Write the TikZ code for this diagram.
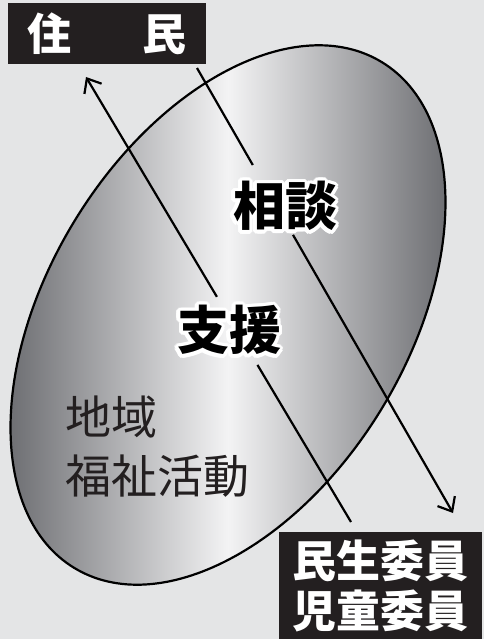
\documentclass[tikz,border=0pt]{standalone}
\usepackage{fontspec}
\newfontfamily\cjk{Noto Sans CJK JP}
\usetikzlibrary{arrows.meta,calc}
\definecolor{bg}{RGB}{228,229,230}
\definecolor{boxfill}{RGB}{35,31,32}
\definecolor{edgegray}{RGB}{108,109,113}
\definecolor{midgray}{RGB}{243,243,244}
\definecolor{ink}{RGB}{35,31,32}
\newcommand{\halotxt}[1]{%
  \foreach \a in {0,22.5,...,337.5}{%
    \pgfmathsetmacro\hx{3.6*cos(\a)}\pgfmathsetmacro\hy{3.6*sin(\a)}%
    \rlap{\kern\hx pt\raisebox{\hy pt}{\color{white}#1}}}%
  #1}
\begin{document}
\begin{tikzpicture}[x=1pt,y=-1pt,
  blackbox/.style={fill=boxfill, text=white, font=\cjk\bfseries\fontsize{44}{50}\selectfont, inner sep=0pt, align=center},
  conn/.style={line width=2.2pt, draw=black},
  tip/.style={-{Straight Barb[length=12pt,width=20pt,line width=2.2pt]}},
  halolabel/.style={font=\cjk\bfseries\fontsize{52}{52}\selectfont, text=black, inner sep=0pt},
  plainlabel/.style={font=\cjk\fontsize{46}{61}\selectfont, text=ink, inner sep=0pt},
]
\fill[bg] (0,0) rectangle (484,639);
\useasboundingbox (0,0) rectangle (484,639);
% ellipse with horizontal gradient
\begin{scope}
  \clip[rotate around={58.7:(228,315)}] (228,315) ellipse [x radius=296pt, y radius=180pt];
  \shade[left color=edgegray, right color=edgegray, middle color=midgray] (7,20) rectangle (449,610);
\end{scope}
\draw[line width=2.2pt, rotate around={58.7:(228,315)}] (228,315) ellipse [x radius=296pt, y radius=180pt];
% arrows
\coordinate (s1) at (197,68);
\coordinate (e1) at (453,513);
\coordinate (s2) at (351,522);
\coordinate (e2) at (86,77);
\draw[conn] (s1) -- ($(s1)!0.218!(e1)$);
\draw[conn, tip] ($(s1)!0.375!(e1)$) -- (e1);
\draw[conn] (s2) -- ($(s2)!0.353!(e2)$);
\draw[conn, tip] ($(s2)!0.506!(e2)$) -- (e2);
% halo labels
\node[halolabel] (soudan) at (285,206) {\halotxt{相談}};
\node[halolabel] (shien) at (229,330) {\halotxt{支援}};
% plain labels
\node[plainlabel] (chiiki) at (111,416.5) {地域};
\node[plainlabel] (katsudou) at (157.5,476.5) {福祉活動};
% boxes
\node[blackbox, minimum width=198pt, minimum height=61pt] (jumin) at (107,33.5) {住\hspace{71pt}民};
\node[blackbox, minimum width=203pt, minimum height=107pt] (minsei) at (380.5,585.5) {民生委員\\児童委員};
\end{tikzpicture}
\end{document}
